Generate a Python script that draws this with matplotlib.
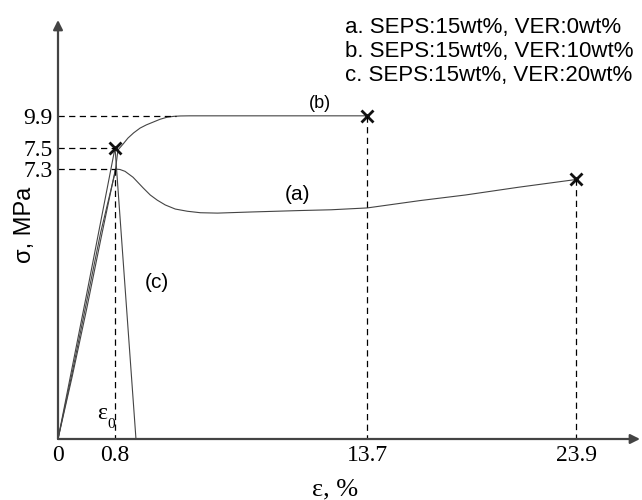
import numpy as np
import matplotlib
matplotlib.use('Agg')
import matplotlib.pyplot as plt

# strain (%) and stress (MPa) for the three blends
eps_a = [0, 0.2, 0.4, 0.6, 0.82, 1.05, 1.31, 1.72, 2.24, 2.60, 2.96, 3.37, 3.88,
         4.50, 5.17, 6.04, 7.74, 10.31, 11.85, 13.7, 16.29, 18.49, 21.08, 23.9]
sig_a = [0, 1.7, 3.5, 5.4, 7.3, 7.29, 7.24, 7.08, 6.79, 6.60, 6.46, 6.33, 6.22,
         6.16, 6.12, 6.11, 6.14, 6.18, 6.20, 6.25, 6.45, 6.60, 6.81, 7.02]

eps_b = [0, 0.2, 0.4, 0.6, 0.8, 0.95, 1.21, 1.46, 1.75, 2.08, 2.40, 2.75, 3.10,
         3.47, 3.80, 4.14, 4.60, 13.7]
sig_b = [0, 1.8, 3.7, 5.6, 7.2, 7.48, 7.78, 8.23, 8.62, 8.98, 9.22, 9.43, 9.64,
         9.80, 9.86, 9.89, 9.9, 9.9]

eps_c = [0, 0.4, 0.8, 1.87]
sig_c = [0, 3.9, 7.5, 0]

# break points
eps_break = [0.8, 13.7, 23.9]
sig_break = [7.5, 9.9, 7.02]

x_ticks = [0, 0.8, 13.7, 23.9]
x_labels = ['0', '0.8', '13.7', '23.9']
y_ticks = [7.3, 7.5, 9.9]
y_labels = ['7.3', '7.5', '9.9']

legend_lines = ['a. SEPS:15wt%, VER:0wt%',
                'b. SEPS:15wt%, VER:10wt%',
                'c. SEPS:15wt%, VER:20wt%']

# piecewise axes (schematic spacing between the marked values)
xb = np.array([-100, 0, 0.8, 13.7, 23.9, 100])
xp = np.array([-7125, 0, 57, 309, 518, 2078])
yb = np.array([-100, 0, 7.3, 7.5, 9.9, 100])
yp = np.array([-3699, 0, 270, 291.3, 323.3, 1523])


def fx(v):
    return np.interp(v, xb, xp)


def fx_inv(v):
    return np.interp(v, xp, xb)


def fy(v):
    return np.interp(v, yb, yp)


def fy_inv(v):
    return np.interp(v, yp, yb)


fig = plt.figure(figsize=(6.42, 5), dpi=100)
ax = fig.add_axes([58 / 642, 61 / 500, 582 / 642, 419 / 500])
ax.set_xscale('function', functions=(fx, fx_inv))
ax.set_yscale('function', functions=(fy, fy_inv))
ax.set_xlim(0, 27)
ax.set_ylim(0, 17.1)

lc = '#444444'
ax.plot(eps_a, sig_a, color=lc, lw=0.8)
ax.plot(eps_b, sig_b, color=lc, lw=0.8)
ax.plot(eps_c, sig_c, color=lc, lw=0.8)
ax.plot(eps_break, sig_break, 'x', color='#111111', ms=8, mew=2)

# guide lines
dash = dict(color='black', lw=0.9, ls=(0, (5, 3.5)))
ax.plot([0, 3.9], [9.9, 9.9], **dash)
ax.plot([0, 0.8], [7.5, 7.5], **dash)
ax.plot([0, 0.82], [7.3, 7.3], **dash)
ax.plot([0.82, 0.82], [7.3, 0], **dash)
ax.plot([13.7, 13.7], [9.9, 0], **dash)
ax.plot([23.9, 23.9], [7.02, 0], **dash)

for s in ax.spines.values():
    s.set_visible(False)
arrow = dict(arrowstyle='-|>', color=lc, lw=1.6, mutation_scale=14, shrinkA=0, shrinkB=0)
ax.annotate('', xy=(1, 0), xytext=(0, 0), xycoords='axes fraction', arrowprops=arrow)
ax.annotate('', xy=(0, 1), xytext=(0, 0), xycoords='axes fraction', arrowprops=arrow)

ax.set_xticks(x_ticks)
ax.set_xticklabels(x_labels, family='Liberation Serif', fontsize=17)
ax.set_yticks(y_ticks)
ax.set_yticklabels(y_labels, family='Liberation Serif', fontsize=17)
ax.tick_params(length=0, pad=4)
ax.minorticks_off()

sans = 'Liberation Sans'
serif = 'Liberation Serif'
ax.text(11.28, 10.85, '(b)', family=sans, fontsize=13, ha='center', va='center')
ax.text(10.15, 6.6, '(a)', family=sans, fontsize=15, ha='center', va='center')
ax.text(2.96, 4.22, '(c)', family=sans, fontsize=15, ha='center', va='center')
ax.text(0.62, 0.7, 'ε', family=serif, fontsize=17, ha='center', va='center')
ax.text(0.74, 0.38, '0', family=serif, fontsize=11, ha='center', va='center')

fig.text(335 / 642, 5 / 500, 'ε, %', family=serif, fontsize=19,
         ha='center', va='baseline')
fig.text(25 / 642, 1 - 225 / 500, 'σ, MPa', family=sans, fontsize=17,
         rotation=90, ha='center', va='center')

for i, line in enumerate(legend_lines):
    fig.text(345 / 642, 1 - (33 + 24 * i) / 500, line, family=sans, fontsize=16,
             ha='left', va='baseline')

fig.savefig('out.png', dpi=100)
